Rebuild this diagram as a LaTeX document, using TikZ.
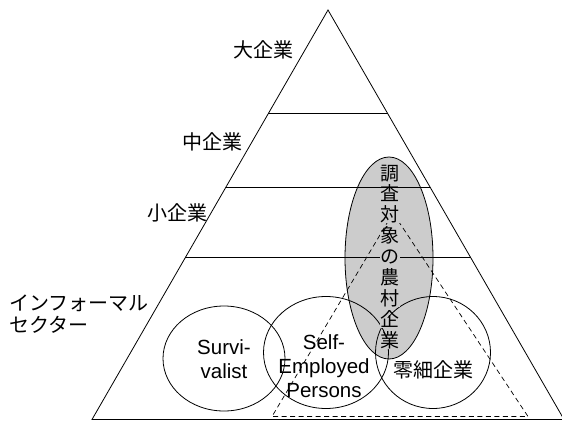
\documentclass[tikz,border=0pt]{standalone}
\usepackage{fontspec}
\setmainfont{Liberation Sans}
\newfontfamily\jp{Noto Sans CJK JP}
\definecolor{ellgray}{gray}{0.8}
\begin{document}
\begin{tikzpicture}[x=1pt,y=-1pt,
  line/.style={draw=black,line width=0.8pt},
  dashline/.style={draw=black,line width=0.7pt,dash pattern=on 5pt off 3.5pt},
  jplabel/.style={font=\jp\fontsize{20}{22}\selectfont,inner sep=0pt},
  enlabel/.style={font=\fontsize{20.5}{24}\selectfont,inner sep=0pt,align=center},
  vchar/.style={font=\jp\fontsize{19}{19}\selectfont,fill=ellgray,inner sep=0.6pt,
                text height=0.78em,text depth=0.08em},
  blob/.style={draw=black,line width=0.8pt,ellipse}]
\useasboundingbox (0,0) rectangle (562,421);

% pyramid
\coordinate (A) at (328,10);
\coordinate (BL) at (92,419.5);
\coordinate (BR) at (564,419.5);
\path (A) -- (BL) coordinate[pos=0.2537] (L1) coordinate[pos=0.4329] (L2) coordinate[pos=0.6049] (L3);
\path (A) -- (BR) coordinate[pos=0.2537] (R1) coordinate[pos=0.4329] (R2) coordinate[pos=0.6049] (R3);

% surveyed rural enterprises (grey ellipse)
\fill[ellgray] (389,258) ellipse[x radius=44,y radius=101];
\draw[line] (389,258) ellipse[x radius=44,y radius=101];

\draw[line] (A) -- (BL) -- (BR) -- cycle;
\draw[line] (L1) -- (R1);
\draw[line] (L2) -- (R2);
\draw[line] (L3) -- (R3);

% dashed triangle
\coordinate (DA) at (393,213);
\coordinate (DL) at (272,416.5);
\coordinate (DR) at (528,416.5);
\draw[dashline] (DA) -- (DL) -- (DR) -- cycle;

% circles
\draw[line] (224,358.5) ellipse[x radius=61,y radius=52.5];
\draw[line] (326,352.5) ellipse[x radius=62.5,y radius=56];
\draw[line] (433,352.5) ellipse[x radius=57.5,y radius=56];

% level labels
\node[jplabel,anchor=east] (big) at (294,50) {大企業};
\node[jplabel,anchor=east] (mid) at (243,142) {中企業};
\node[jplabel,anchor=east] (small) at (208,213) {小企業};
\node[jplabel,anchor=west,align=left] (inf) at (9,314) {インフォーマル\\セクター};

% circle labels
\node[enlabel] (surv) at (224,359) {Survi-\\valist};
\node[enlabel] (self) at (324,366) {Self-\\Employed\\Persons};
\node[jplabel] (micro) at (433,370) {零細企業};

% vertical text
\foreach \c [count=\i] in {調,査,対,象,の,農,村,企,業}{
  \node[vchar] (v\i) at (390,{176.5+20.9*(\i-1)}) {\c};
}
\end{tikzpicture}
\end{document}
